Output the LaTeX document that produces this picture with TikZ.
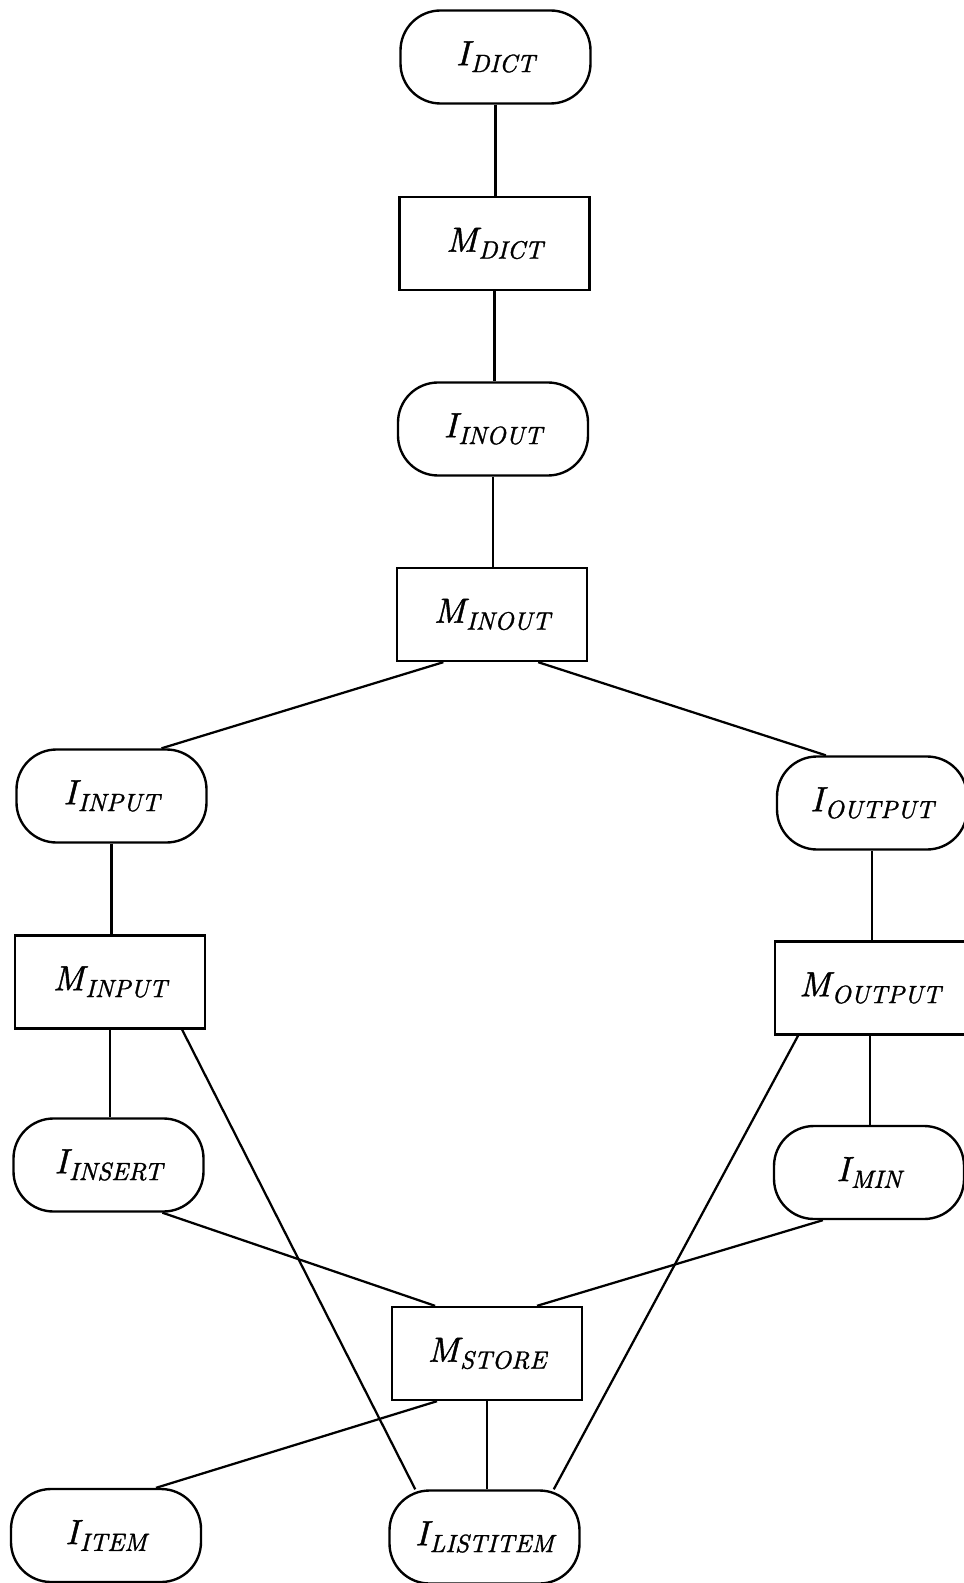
\documentclass[tikz,border=0pt]{standalone}
\usepackage{fontspec}
\usetikzlibrary{calc}
\newfontfamily\labelfont[FakeBold=1.2]{lmroman10-italic.otf}
\begin{document}
\newcommand{\modname}[2]{{\labelfont\fontsize{14}{16}\selectfont #1\kern0.4pt\raisebox{-0.45ex}{\fontsize{10}{12}\selectfont #2}}}
\begin{tikzpicture}[x=0.4pt,y=-0.4pt,
  every node/.style={inner sep=0pt, line width=0.95pt, draw=black},
  iface/.style={minimum width=76pt, minimum height=37.2pt, rounded corners=16pt},
  modbox/.style={minimum width=76pt, minimum height=37.2pt},
  link/.style={line width=0.9pt}]
\useasboundingbox (0,0) rectangle (964,1583);

% interfaces and modules
\node[iface]  (idict)     at (495.5,57)   {\modname{I}{DICT}};
\node[modbox] (mdict)     at (494.5,243.5) {\modname{M}{DICT}};
\node[iface]  (iinout)    at (493,429)    {\modname{I}{INOUT}};
\node[modbox] (minout)    at (492,614.5)  {\modname{M}{INOUT}};
\node[iface]  (iinput)    at (111.5,796)  {\modname{I}{INPUT}};
\node[iface]  (ioutput)   at (872,803)    {\modname{I}{OUTPUT}};
\node[modbox] (minput)    at (110,982)    {\modname{M}{INPUT}};
\node[modbox] (moutput)   at (870,988)    {\modname{M}{OUTPUT}};
\node[iface]  (iinsert)   at (108.5,1165) {\modname{I}{INSERT}};
\node[iface]  (imin)      at (869,1172.5) {\modname{I}{MIN}};
\node[modbox] (mstore)    at (487,1353.5) {\modname{M}{STORE}};
\node[iface]  (iitem)     at (106,1535.5) {\modname{I}{ITEM}};
\node[iface]  (ilistitem) at (484.5,1537) {\modname{I}{LISTITEM}};

% vertical links
\draw[link] (idict.south)   -- (idict.south |- mdict.north);
\draw[link] (mdict.south)   -- (mdict.south |- iinout.north);
\draw[link] (iinout.south)  -- (iinout.south |- minout.north);
\draw[link] (iinput.south)  -- (iinput.south |- minput.north);
\draw[link] (minput.south)  -- (minput.south |- iinsert.north);
\draw[link] (ioutput.south) -- (ioutput.south |- moutput.north);
\draw[link] (moutput.south) -- (moutput.south |- imin.north);
\draw[link] (mstore.south)  -- (mstore.south |- ilistitem.north);

% slanted links
\draw[link] ($(minout.south west)!0.247!(minout.south east)$) -- ($(iinput.north west)!0.76!(iinput.north east)$);
\draw[link] ($(minout.south west)!0.74!(minout.south east)$) -- ($(ioutput.north west)!0.26!(ioutput.north east)$);
\draw[link] ($(minput.south west)!0.875!(minput.south east)$) -- ($(ilistitem.north west)!0.14!(ilistitem.north east)$);
\draw[link] ($(moutput.south west)!0.126!(moutput.south east)$) -- ($(ilistitem.north west)!0.86!(ilistitem.north east)$);
\draw[link] ($(iinsert.south west)!0.78!(iinsert.south east)$) -- ($(mstore.north west)!0.23!(mstore.north east)$);
\draw[link] ($(imin.south west)!0.26!(imin.south east)$) -- ($(mstore.north west)!0.76!(mstore.north east)$);
\draw[link] ($(mstore.south west)!0.24!(mstore.south east)$) -- ($(iitem.north west)!0.76!(iitem.north east)$);
\end{tikzpicture}
\end{document}
